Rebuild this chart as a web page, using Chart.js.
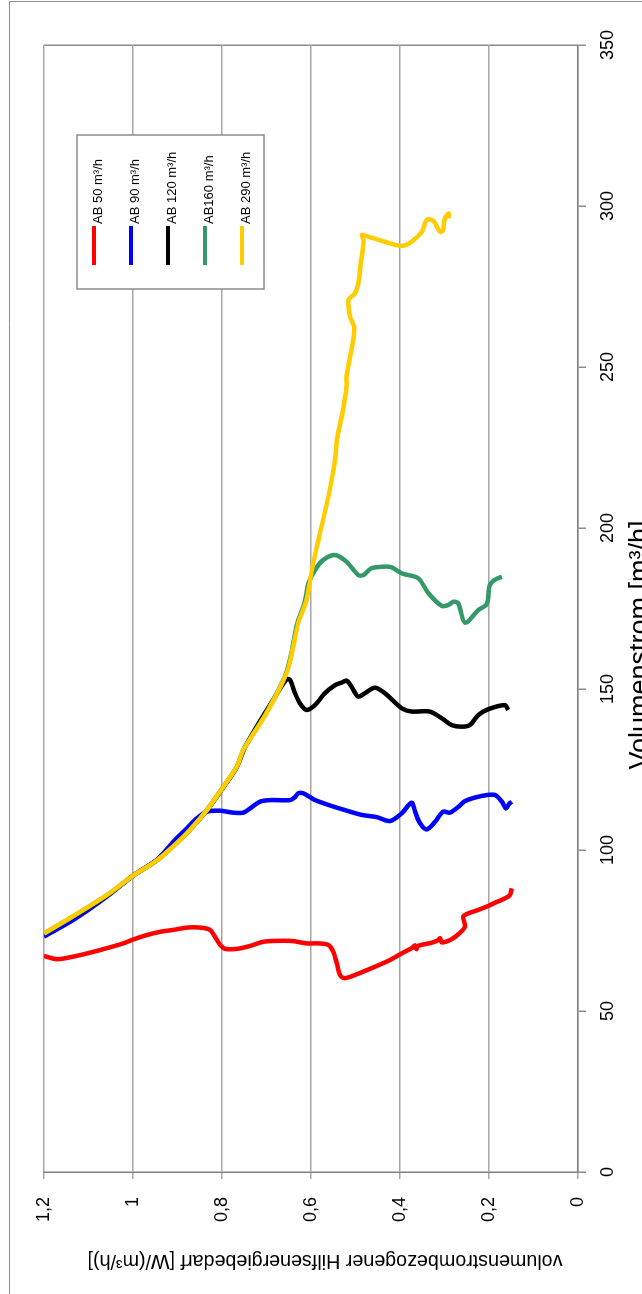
<!DOCTYPE html>
<html>
<head>
<meta charset="utf-8">
<script src="https://cdn.jsdelivr.net/npm/chart.js@4.4.1/dist/chart.umd.min.js"></script>
<style>
  html, body { margin: 0; padding: 0; background: #fff; overflow: hidden; width: 642px; height: 1294px; }
  #wrap { position: absolute; left: 0; top: 0; width: 1294px; height: 642px;
          transform-origin: 0 0; transform: translateY(1294px) rotate(-90deg); background: #fff; }
  canvas { display: block; }
</style>
</head>
<body>
<div id="wrap"><canvas id="c" width="1294" height="642"></canvas></div>
<script>
// ---- data (Volumenstrom [m³/h] vs. W/(m³/h)) ----
const seriesLabels = ['AB 50 m³/h', 'AB 90 m³/h', 'AB 120 m³/h', 'AB160 m³/h', 'AB 290 m³/h'];
const seriesColors = ['#ff0000', '#0000ff', '#000000', '#339966', '#ffcc00'];

const redX = [67.1, 66.1, 66.9, 68.1, 69.5, 71.0, 72.3, 73.6, 74.6, 75.2, 75.9, 75.9, 75.2, 73.1, 70.5, 69.3, 69.3, 70.2, 71.5, 71.8, 71.7, 71.0, 71.0, 70.5, 68.4, 64.8, 61.2, 60.2, 61.2, 63.3, 65.6, 67.9, 69.5, 70.4, 69.2, 70.2, 71.2, 72.0, 72.6, 71.3, 72.3, 74.3, 76.2, 79.3, 80.3, 81.4, 82.6, 83.6, 85.0, 86.0, 88.1];
const redY = [1.2, 1.171, 1.134, 1.097, 1.059, 1.022, 0.998, 0.969, 0.939, 0.909, 0.879, 0.849, 0.827, 0.816, 0.804, 0.793, 0.767, 0.737, 0.707, 0.670, 0.640, 0.610, 0.584, 0.561, 0.550, 0.542, 0.535, 0.525, 0.501, 0.464, 0.426, 0.396, 0.374, 0.366, 0.363, 0.360, 0.329, 0.314, 0.310, 0.306, 0.284, 0.265, 0.254, 0.258, 0.247, 0.224, 0.202, 0.187, 0.164, 0.153, 0.149];

const blueX = [73.1, 78.3, 85.5, 92.2, 96.9, 102.6, 106.7, 109.8, 111.9, 112.2, 111.6, 111.6, 112.9, 115.0, 115.5, 115.5, 116.4, 117.6, 117.6, 116.4, 115.5, 114.0, 112.4, 110.9, 110.2, 109.0, 111.4, 114.7, 111.9, 108.3, 106.4, 108.8, 111.9, 111.6, 113.4, 115.2, 116.8, 117.1, 115.0, 112.9, 114.3, 115.0];
const blueY = [1.2, 1.134, 1.059, 0.998, 0.947, 0.909, 0.879, 0.857, 0.834, 0.804, 0.775, 0.752, 0.737, 0.715, 0.692, 0.647, 0.636, 0.629, 0.617, 0.602, 0.591, 0.561, 0.524, 0.486, 0.452, 0.422, 0.396, 0.374, 0.366, 0.355, 0.340, 0.321, 0.303, 0.288, 0.269, 0.254, 0.216, 0.187, 0.171, 0.162, 0.155, 0.149];

const blackX = [74.0, 79.3, 85.8, 92.2, 96.8, 101.4, 106.3, 112.3, 119.5, 125.7, 131.5, 138.3, 146.6, 153.0, 152.8, 148.7, 145.6, 143.5, 145.0, 148.7, 151.2, 152.0, 152.6, 150.7, 147.6, 148.7, 150.4, 148.7, 144.0, 143.0, 143.0, 140.9, 138.8, 138.3, 138.8, 141.9, 143.7, 145.0, 143.5];
const blackY = [1.2, 1.134, 1.059, 0.998, 0.947, 0.909, 0.872, 0.834, 0.797, 0.767, 0.750, 0.722, 0.685, 0.655, 0.647, 0.636, 0.625, 0.610, 0.591, 0.569, 0.546, 0.531, 0.520, 0.509, 0.494, 0.479, 0.456, 0.434, 0.396, 0.374, 0.333, 0.306, 0.284, 0.261, 0.243, 0.224, 0.202, 0.164, 0.157];

const greenX = [74.0, 79.4, 85.9, 92.2, 96.7, 101.3, 106.3, 112.4, 119.6, 125.8, 131.5, 142.3, 154.5, 162.5, 169.8, 177.0, 182.8, 187.0, 190.1, 191.6, 189.5, 185.4, 185.4, 187.5, 188.0, 187.8, 185.9, 184.4, 179.7, 175.8, 176.1, 177.1, 176.6, 170.6, 174.5, 176.4, 182.3, 183.9, 184.9];
const greenY = [1.2, 1.134, 1.059, 0.998, 0.947, 0.909, 0.872, 0.834, 0.797, 0.767, 0.750, 0.702, 0.657, 0.642, 0.632, 0.614, 0.606, 0.591, 0.572, 0.546, 0.520, 0.494, 0.482, 0.464, 0.434, 0.419, 0.396, 0.359, 0.336, 0.306, 0.291, 0.280, 0.269, 0.254, 0.224, 0.205, 0.198, 0.187, 0.171];

const yellowX = [74.1, 79.5, 86.0, 92.2, 96.7, 101.2, 106.2, 112.4, 119.7, 125.9, 131.1, 142.5, 154.9, 163.1, 170.4, 177.6, 187.0, 198.3, 209.7, 221.1, 227.3, 234.6, 243.9, 247.0, 258.4, 262.5, 265.6, 270.8, 272.9, 276.0, 282.2, 289.4, 291.0, 290.5, 288.9, 287.6, 288.9, 292.0, 295.7, 295.4, 292.0, 292.5, 295.7, 297.7, 296.2];
const yellowY = [1.2, 1.134, 1.059, 0.998, 0.947, 0.909, 0.872, 0.834, 0.797, 0.767, 0.752, 0.700, 0.655, 0.640, 0.629, 0.610, 0.598, 0.580, 0.561, 0.546, 0.542, 0.531, 0.520, 0.520, 0.505, 0.503, 0.512, 0.516, 0.501, 0.494, 0.488, 0.482, 0.486, 0.471, 0.434, 0.396, 0.374, 0.351, 0.340, 0.325, 0.310, 0.303, 0.300, 0.291, 0.290];

const xTickValues = [0, 50, 100, 150, 200, 250, 300, 350];
const yTickLabels = ['0', '0,2', '0,4', '0,6', '0,8', '1', '1,2'];
const xTitle = 'Volumenstrom [m³/h]';
const yTitle = 'volumenstrombezogener Hilfsenergiebedarf [W/(m³/h)]';

const seriesX = [redX, blueX, blackX, greenX, yellowX];
const seriesY = [redY, blueY, blackY, greenY, yellowY];

const FONT = "'Liberation Sans', Arial, sans-serif";

const datasets = seriesLabels.map((lab, i) => ({
  label: lab,
  data: seriesX[i].map((x, k) => ({ x: x, y: seriesY[i][k] })),
  borderColor: seriesColors[i],
  backgroundColor: seriesColors[i],
  borderWidth: 4.5,
  pointRadius: 0,
  showLine: true,
  tension: 0.3,
  fill: false,
  order: seriesLabels.length - i
}));

// frame, boxed legend and the two axis titles (placed as in the original)
const decor = {
  id: 'decor',
  beforeDraw(chart) {
    const ctx = chart.ctx;
    ctx.save();
    ctx.fillStyle = '#fff';
    ctx.fillRect(0, 0, chart.width, chart.height);
    ctx.strokeStyle = '#8c8c8c';
    ctx.lineWidth = 1;
    ctx.beginPath();
    ctx.moveTo(0, 9.5); ctx.lineTo(1292.5, 9.5); ctx.lineTo(1292.5, chart.height);
    ctx.stroke();
    ctx.restore();
  },
  afterDraw(chart) {
    const ctx = chart.ctx;
    ctx.save();
    // legend box
    const bx = 1005, by = 77, bw = 154, bh = 187;
    ctx.fillStyle = '#fff';
    ctx.fillRect(bx, by, bw, bh);
    ctx.strokeStyle = '#8c8c8c';
    ctx.lineWidth = 1.5;
    ctx.strokeRect(bx, by, bw, bh);
    ctx.font = '13px ' + FONT;
    ctx.textBaseline = 'alphabetic';
    ctx.textAlign = 'left';
    chart.data.datasets.forEach((ds, i) => {
      const yy = 94 + 37 * i;
      ctx.strokeStyle = ds.borderColor;
      ctx.lineWidth = 4;
      ctx.beginPath();
      ctx.moveTo(1029, yy); ctx.lineTo(1068, yy);
      ctx.stroke();
      ctx.fillStyle = '#000';
      ctx.fillText(ds.label, 1070, yy + 7.5);
    });
    ctx.fillStyle = '#000';
    ctx.textAlign = 'center';
    ctx.textBaseline = 'middle';
    // x-axis title (bottom part outside the picture as in the original)
    ctx.font = '27px ' + FONT;
    ctx.fillText(xTitle, 649, 641);
    // y-axis title, rotated
    ctx.font = '19.7px ' + FONT;
    ctx.translate(34, 325);
    ctx.rotate(-Math.PI / 2);
    ctx.fillText(yTitle, 0, 0);
    ctx.restore();
  }
};

new Chart(document.getElementById('c'), {
  type: 'scatter',
  data: { datasets },
  plugins: [decor],
  options: {
    responsive: false,
    animation: false,
    devicePixelRatio: 1,
    layout: { padding: { top: 44, right: 45, left: 0, bottom: 0 } },
    plugins: { legend: { display: false }, tooltip: { enabled: false } },
    scales: {
      x: {
        type: 'linear', min: 0, max: 350,
        afterBuildTicks: s => { s.ticks = xTickValues.map(v => ({ value: v })); },
        ticks: { color: '#000', font: { family: FONT, size: 18 }, padding: 11, maxRotation: 0 },
        grid: {
          drawOnChartArea: true,
          color: c => (c.tick && c.tick.value === 350) ? '#8c8c8c' : 'rgba(0,0,0,0)',
          tickColor: '#8c8c8c', tickLength: 8, lineWidth: 1.5
        },
        border: { color: '#808080', width: 1.5 },
        title: { display: false, text: xTitle },
        afterFit: s => { s.height = 64; }
      },
      y: {
        type: 'linear', min: 0, max: 1.2,
        ticks: { stepSize: 0.2, color: '#000', font: { family: FONT, size: 18 }, padding: 18,
                 callback: (v, i) => yTickLabels[i] },
        grid: { color: '#a6a6a6', lineWidth: 1.5, tickLength: 7, tickColor: '#a6a6a6' },
        border: { color: '#808080', width: 1.5 },
        title: { display: false, text: yTitle },
        afterFit: s => { s.width = 122; }
      }
    }
  }
});
</script>
</body>
</html>
